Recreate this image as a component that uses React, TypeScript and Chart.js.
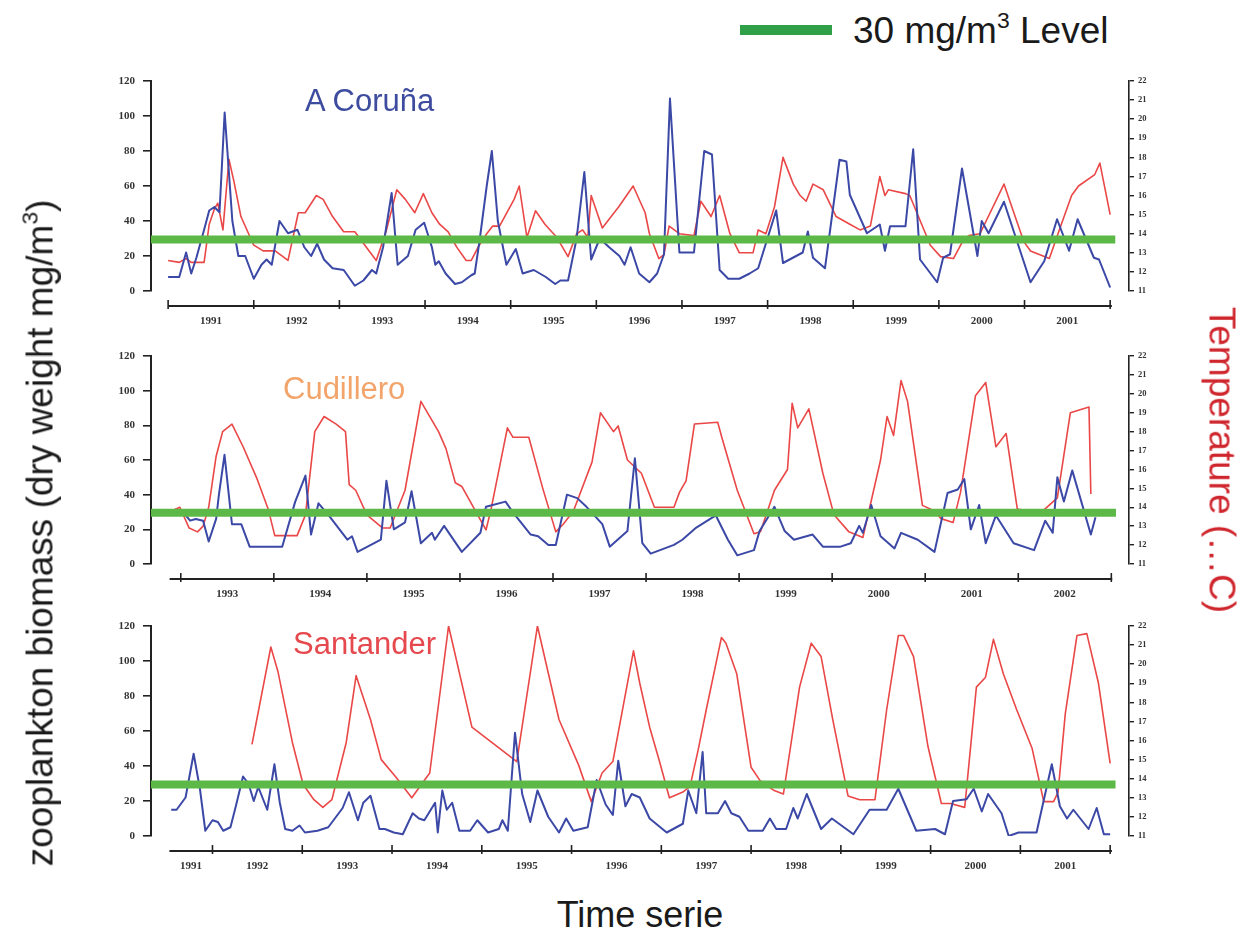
import React, { useEffect, useRef } from 'react';
import { Chart, registerables } from 'chart.js';

Chart.register(...registerables);

type Pt = [number, number];

// ---------- DATA (decimal year, value) ----------
// A Coruña — zooplankton biomass (mg/m3)
const corunaBiomass: Pt[] = [
  [1991.0, 8], [1991.13, 8], [1991.21, 22], [1991.27, 10], [1991.33, 19], [1991.42, 35], [1991.48, 46], [1991.54, 48],
  [1991.6, 45], [1991.66, 102], [1991.75, 40], [1991.82, 20], [1991.9, 20], [1992.0, 7], [1992.09, 15], [1992.15, 18],
  [1992.21, 15], [1992.3, 40], [1992.4, 33], [1992.51, 35], [1992.59, 25], [1992.67, 20], [1992.74, 27], [1992.82, 18],
  [1992.92, 13], [1993.05, 12], [1993.18, 3], [1993.28, 6], [1993.38, 12], [1993.43, 10], [1993.51, 25], [1993.61, 56],
  [1993.68, 15], [1993.8, 20], [1993.89, 35], [1993.99, 39], [1994.08, 25], [1994.12, 15], [1994.16, 17], [1994.24, 10],
  [1994.35, 4], [1994.43, 5], [1994.54, 9], [1994.58, 10], [1994.64, 30], [1994.72, 60], [1994.78, 80], [1994.85, 40],
  [1994.95, 15], [1995.06, 24], [1995.14, 10], [1995.27, 12], [1995.41, 8], [1995.52, 4], [1995.58, 6], [1995.67, 6],
  [1995.77, 30], [1995.86, 68], [1995.94, 18], [1996.04, 30], [1996.15, 25], [1996.27, 20], [1996.33, 15], [1996.4, 25],
  [1996.5, 10], [1996.62, 5], [1996.71, 10], [1996.79, 21], [1996.86, 110], [1996.97, 22], [1997.14, 22], [1997.26, 80],
  [1997.35, 78], [1997.44, 12], [1997.54, 7], [1997.67, 7], [1997.79, 10], [1997.89, 13], [1998.1, 46], [1998.18, 16],
  [1998.41, 22], [1998.47, 34], [1998.53, 19], [1998.67, 13], [1998.84, 75], [1998.92, 74], [1998.96, 55], [1999.16, 33],
  [1999.31, 38], [1999.37, 23], [1999.43, 37], [1999.61, 37], [1999.7, 81], [1999.78, 18], [1999.98, 5], [2000.05, 19],
  [2000.13, 21], [2000.27, 70], [2000.45, 20], [2000.5, 40], [2000.58, 33], [2000.76, 51], [2001.07, 5], [2001.23, 17],
  [2001.38, 41], [2001.52, 23], [2001.62, 41], [2001.81, 19], [2001.87, 18], [2002.0, 2],
];

// A Coruña — temperature (°C)
const corunaTemperature: Pt[] = [
  [1991.0, 12.6], [1991.13, 12.5], [1991.21, 12.7], [1991.27, 12.5], [1991.42, 12.5], [1991.48, 14.5], [1991.54, 15.3],
  [1991.58, 15.6], [1991.64, 14.2], [1991.71, 17.9], [1991.77, 16.7], [1991.85, 14.9], [1991.94, 14.0], [1992.0, 13.4],
  [1992.11, 13.1], [1992.25, 13.1], [1992.4, 12.6], [1992.52, 15.1], [1992.6, 15.1], [1992.73, 16.0], [1992.81, 15.8],
  [1992.92, 14.9], [1993.05, 14.1], [1993.18, 14.1], [1993.43, 12.6], [1993.55, 14.2], [1993.67, 16.3], [1993.77, 15.8],
  [1993.88, 15.1], [1993.98, 16.1], [1994.08, 15.1], [1994.17, 14.5], [1994.27, 14.1], [1994.37, 13.3], [1994.48, 12.6],
  [1994.54, 12.6], [1994.62, 13.3], [1994.72, 14.0], [1994.79, 14.4], [1994.87, 14.4], [1995.04, 15.8], [1995.1, 16.5],
  [1995.19, 13.8], [1995.29, 15.2], [1995.4, 14.5], [1995.54, 13.8], [1995.67, 12.8], [1995.77, 14.0], [1995.84, 14.2],
  [1995.9, 13.8], [1995.94, 16.0], [1996.07, 14.3], [1996.26, 15.4], [1996.43, 16.5], [1996.57, 15.1], [1996.62, 14.0],
  [1996.73, 12.7], [1996.79, 12.9], [1996.85, 14.4], [1996.97, 14.0], [1997.14, 13.9], [1997.22, 15.7], [1997.34, 14.9],
  [1997.44, 16.0], [1997.56, 14.0], [1997.67, 13.0], [1997.83, 13.0], [1997.89, 14.2], [1997.98, 14.0], [1998.08, 15.4],
  [1998.18, 18.0], [1998.3, 16.6], [1998.38, 16.0], [1998.45, 15.7], [1998.53, 16.6], [1998.65, 16.3], [1998.8, 14.9],
  [1998.96, 14.5], [1999.08, 14.2], [1999.2, 14.4], [1999.31, 17.0], [1999.37, 16.0], [1999.41, 16.3], [1999.61, 16.1],
  [1999.66, 16.0], [1999.9, 13.4], [2000.02, 12.8], [2000.17, 12.7], [2000.29, 13.7], [2000.35, 13.9], [2000.48, 14.0],
  [2000.76, 16.6], [2000.99, 13.6], [2001.07, 13.1], [2001.29, 12.7], [2001.43, 14.5], [2001.55, 16.0], [2001.63, 16.5],
  [2001.82, 17.1], [2001.88, 17.7], [2002.0, 15.0],
];

// Cudillero — zooplankton biomass (mg/m3)
const cudilleroBiomass: Pt[] = [
  [1992.85, 28], [1992.93, 30], [1993.01, 31], [1993.1, 25], [1993.16, 26], [1993.24, 25], [1993.3, 13], [1993.38, 26],
  [1993.41, 40], [1993.47, 63], [1993.55, 23], [1993.65, 23], [1993.74, 10], [1994.09, 10], [1994.23, 36], [1994.34, 51],
  [1994.4, 17], [1994.48, 35], [1994.59, 28], [1994.79, 14], [1994.84, 16], [1994.9, 7], [1995.15, 14], [1995.21, 48],
  [1995.29, 20], [1995.41, 24], [1995.48, 42], [1995.58, 12], [1995.7, 18], [1995.73, 14], [1995.83, 22], [1996.02, 7],
  [1996.22, 18], [1996.28, 33], [1996.49, 36], [1996.58, 29], [1996.76, 17], [1996.84, 16], [1996.95, 11], [1997.03, 11],
  [1997.15, 40], [1997.26, 38], [1997.36, 33], [1997.53, 23], [1997.61, 10], [1997.8, 19], [1997.88, 61], [1997.96, 12],
  [1998.05, 6], [1998.3, 11], [1998.39, 14], [1998.54, 21], [1998.75, 28], [1998.88, 14], [1998.98, 5], [1999.16, 8],
  [1999.22, 19], [1999.38, 33], [1999.49, 19], [1999.59, 14], [1999.79, 17], [1999.9, 10], [2000.09, 10], [2000.2, 12],
  [2000.29, 22], [2000.33, 18], [2000.42, 34], [2000.52, 16], [2000.67, 9], [2000.74, 18], [2000.92, 14], [2001.1, 7],
  [2001.24, 41], [2001.35, 43], [2001.42, 49], [2001.49, 20], [2001.58, 34], [2001.65, 12], [2001.76, 28], [2001.95, 12],
  [2002.17, 8], [2002.29, 25], [2002.37, 18], [2002.42, 50], [2002.49, 36], [2002.58, 54], [2002.78, 17], [2002.83, 27],
];

// Cudillero — temperature (°C)
const cudilleroTemperature: Pt[] = [
  [1992.85, 13.7], [1992.99, 14.0], [1993.09, 12.9], [1993.18, 12.7], [1993.24, 13.0], [1993.3, 14.0], [1993.38, 16.7],
  [1993.45, 18.0], [1993.55, 18.4], [1993.67, 17.2], [1993.82, 15.5], [1993.94, 13.9], [1994.01, 12.5], [1994.25, 12.5],
  [1994.34, 13.6], [1994.44, 18.0], [1994.54, 18.8], [1994.67, 18.4], [1994.77, 18.0], [1994.81, 15.2], [1994.88, 14.9],
  [1995.0, 13.6], [1995.17, 12.9], [1995.25, 12.9], [1995.41, 14.9], [1995.58, 19.6], [1995.77, 18.0], [1995.85, 17.1],
  [1995.95, 15.3], [1996.02, 15.1], [1996.28, 12.8], [1996.33, 13.8], [1996.51, 18.2], [1996.57, 17.7], [1996.74, 17.7],
  [1996.89, 15.0], [1997.03, 12.7], [1997.11, 13.1], [1997.22, 13.8], [1997.42, 16.4], [1997.51, 19.0], [1997.65, 18.0],
  [1997.7, 18.3], [1997.8, 16.5], [1997.95, 15.8], [1998.09, 14.0], [1998.3, 14.0], [1998.36, 14.8], [1998.43, 15.4],
  [1998.52, 18.4], [1998.77, 18.5], [1998.82, 17.6], [1998.98, 14.9], [1999.16, 12.6], [1999.23, 12.7], [1999.38, 14.9],
  [1999.52, 16.0], [1999.57, 19.5], [1999.63, 18.2], [1999.75, 19.2], [1999.9, 15.8], [2000.02, 13.6], [2000.18, 12.7],
  [2000.33, 12.4], [2000.52, 16.5], [2000.59, 18.8], [2000.66, 17.8], [2000.74, 20.7], [2000.81, 19.6], [2000.97, 14.1],
  [2001.1, 13.8], [2001.17, 13.4], [2001.3, 13.2], [2001.38, 14.8], [2001.54, 19.9], [2001.65, 20.6], [2001.76, 17.2],
  [2001.87, 17.9], [2001.99, 13.9], [2002.24, 13.7], [2002.42, 14.5], [2002.56, 19.0], [2002.76, 19.3], [2002.78, 14.7],
];

// Santander — zooplankton biomass (mg/m3)
const santanderBiomass: Pt[] = [
  [1991.54, 15], [1991.6, 15], [1991.7, 22], [1991.79, 47], [1991.86, 27], [1991.92, 3], [1992.0, 9], [1992.06, 8],
  [1992.12, 3], [1992.2, 5], [1992.26, 17], [1992.34, 34], [1992.4, 30], [1992.46, 20], [1992.51, 28], [1992.61, 15],
  [1992.69, 41], [1992.75, 19], [1992.81, 4], [1992.89, 3], [1992.97, 6], [1993.03, 2], [1993.17, 3], [1993.29, 5],
  [1993.45, 16], [1993.52, 25], [1993.62, 9], [1993.68, 19], [1993.76, 23], [1993.86, 4], [1993.92, 4], [1994.02, 2],
  [1994.12, 1], [1994.23, 13], [1994.3, 10], [1994.36, 9], [1994.48, 19], [1994.51, 2], [1994.56, 26], [1994.61, 15],
  [1994.67, 19], [1994.75, 3], [1994.87, 3], [1994.95, 9], [1995.07, 2], [1995.19, 4], [1995.23, 9], [1995.29, 3],
  [1995.37, 59], [1995.45, 24], [1995.54, 8], [1995.62, 26], [1995.74, 11], [1995.86, 2], [1995.94, 10], [1996.02, 3],
  [1996.18, 5], [1996.28, 32], [1996.38, 18], [1996.46, 12], [1996.52, 43], [1996.6, 17], [1996.67, 24], [1996.76, 22],
  [1996.87, 10], [1997.06, 2], [1997.24, 7], [1997.3, 26], [1997.39, 13], [1997.46, 48], [1997.5, 13], [1997.63, 13],
  [1997.71, 20], [1997.78, 13], [1997.87, 11], [1997.97, 3], [1998.13, 3], [1998.21, 10], [1998.28, 4], [1998.39, 4],
  [1998.47, 16], [1998.52, 10], [1998.62, 24], [1998.78, 4], [1998.9, 10], [1999.14, 1], [1999.32, 15], [1999.51, 15],
  [1999.64, 27], [1999.84, 3], [2000.05, 4], [2000.16, 1], [2000.25, 20], [2000.4, 21], [2000.48, 27], [2000.57, 14],
  [2000.64, 24], [2000.79, 13], [2000.87, 0], [2000.98, 2], [2001.18, 2], [2001.35, 41], [2001.44, 17], [2001.52, 10],
  [2001.59, 15], [2001.76, 4], [2001.85, 16], [2001.93, 1], [2002.0, 1],
];

// Santander — temperature (°C)
const santanderTemperature: Pt[] = [
  [1992.44, 15.8], [1992.65, 20.9], [1992.73, 19.6], [1992.89, 15.9], [1993.01, 13.7], [1993.13, 12.9], [1993.23, 12.5],
  [1993.33, 12.9], [1993.49, 15.9], [1993.6, 19.4], [1993.76, 17.1], [1993.88, 15.0], [1994.04, 14.1], [1994.22, 13.0],
  [1994.42, 14.3], [1994.63, 22.0], [1994.89, 16.7], [1995.39, 14.9], [1995.62, 22.0], [1995.86, 17.1], [1996.08, 14.7],
  [1996.22, 12.8], [1996.34, 14.3], [1996.46, 14.9], [1996.69, 20.7], [1996.76, 19.0], [1996.87, 16.7], [1996.98, 14.9],
  [1997.09, 13.0], [1997.24, 13.3], [1997.32, 13.6], [1997.41, 15.5], [1997.5, 17.6], [1997.67, 21.4], [1997.72, 21.1],
  [1997.84, 19.5], [1998.0, 14.6], [1998.1, 13.9], [1998.25, 13.4], [1998.36, 13.2], [1998.54, 18.8], [1998.67, 21.1],
  [1998.78, 20.4], [1998.91, 17.1], [1999.08, 13.1], [1999.21, 12.9], [1999.38, 12.9], [1999.51, 17.6], [1999.64, 21.5],
  [1999.7, 21.5], [1999.81, 20.4], [1999.97, 15.7], [2000.12, 12.7], [2000.22, 12.7], [2000.38, 12.5], [2000.51, 18.8],
  [2000.61, 19.3], [2000.7, 21.3], [2000.81, 19.5], [2000.96, 17.6], [2001.13, 15.6], [2001.26, 12.8], [2001.37, 12.8],
  [2001.42, 13.3], [2001.5, 17.4], [2001.63, 21.5], [2001.74, 21.6], [2001.87, 19.0], [2002.0, 14.8],
];

// Year labels of each time axis
const corunaYears = [1991, 1992, 1993, 1994, 1995, 1996, 1997, 1998, 1999, 2000, 2001];
const cudilleroYears = [1993, 1994, 1995, 1996, 1997, 1998, 1999, 2000, 2001, 2002];
const santanderYears = [1991, 1992, 1993, 1994, 1995, 1996, 1997, 1998, 1999, 2000, 2001];

// Left-axis range (biomass) and right-axis range (temperature)
const biomassRange = [0, 120];
const temperatureRange = [11, 22];
const levelValue = 29.5; // the "30 mg/m3 Level" line as drawn

// ---------- STYLE ----------
const BLUE = '#3b48a6';
const RED = '#ea4747';
const GREEN = '#5cb947';
const LEGEND_GREEN = '#2f9f48';
const AXIS = '#222';
const SANS = '"Liberation Sans", Arial, sans-serif';
const SERIF = '"Liberation Serif", "Times New Roman", serif';

interface PanelCfg {
  top: number;
  height: number;
  xMin: number;
  xMax: number;
  axisStart: number;
  axisEnd: number;
  bio: Pt[];
  temp: Pt[];
  years: number[];
}

const panels: PanelCfg[] = [
  { top: 56, height: 280, xMin: 1990.8, xMax: 2002.22, axisStart: 1991.0, axisEnd: 2002.02, bio: corunaBiomass, temp: corunaTemperature, years: corunaYears },
  { top: 331, height: 278, xMin: 1992.68, xMax: 2003.19, axisStart: 1992.88, axisEnd: 2003.01, bio: cudilleroBiomass, temp: cudilleroTemperature, years: cudilleroYears },
  { top: 601, height: 280, xMin: 1991.315, xMax: 2002.21, axisStart: 1991.52, axisEnd: 2002.02, bio: santanderBiomass, temp: santanderTemperature, years: santanderYears },
];

const brokenAxisPlugin = {
  id: 'brokenXAxis',
  afterDraw(chart: any, _args: any, opts: any) {
    const { ctx, chartArea } = chart;
    const xs = chart.scales.x;
    const y = chartArea.bottom + 15;
    ctx.save();
    ctx.strokeStyle = AXIS;
    ctx.lineWidth = 2;
    ctx.beginPath();
    ctx.moveTo(xs.getPixelForValue(opts.start), y);
    ctx.lineTo(xs.getPixelForValue(opts.end), y);
    ctx.stroke();
    ctx.lineWidth = 1.6;
    for (let yr = Math.ceil(opts.start); yr <= Math.floor(opts.end); yr++) {
      const px = xs.getPixelForValue(yr);
      ctx.beginPath();
      ctx.moveTo(px, y - 6);
      ctx.lineTo(px, y + 3);
      ctx.stroke();
    }
    ctx.restore();
  },
};

function Panel({ cfg }: { cfg: PanelCfg }) {
  const ref = useRef<HTMLCanvasElement | null>(null);
  useEffect(() => {
    if (!ref.current) return;
    const labelPos = cfg.years.map((yr) => {
      const a = Math.max(yr, cfg.axisStart);
      const b = Math.min(yr + 1, cfg.axisEnd);
      return (a + b) / 2;
    });
    const chart = new Chart(ref.current, {
      type: 'line',
      data: {
        datasets: [
          {
            label: '30 mg/m3 Level',
            data: [
              { x: cfg.xMin, y: levelValue },
              { x: cfg.axisEnd + 0.04, y: levelValue },
            ],
            borderColor: GREEN,
            borderWidth: 8,
            borderCapStyle: 'butt',
            pointRadius: 0,
            yAxisID: 'y',
            order: 0,
          },
          {
            label: 'Biomass',
            data: cfg.bio.map(([x, y]) => ({ x, y })),
            borderColor: BLUE,
            borderWidth: 2,
            borderJoinStyle: 'round',
            pointRadius: 0,
            tension: 0,
            yAxisID: 'y',
            order: 1,
          },
          {
            label: 'Temperature',
            data: cfg.temp.map(([x, y]) => ({ x, y })),
            borderColor: RED,
            borderWidth: 1.6,
            borderJoinStyle: 'round',
            pointRadius: 0,
            tension: 0,
            yAxisID: 'y1',
            order: 2,
          },
        ],
      },
      options: {
        animation: false,
        responsive: false,
        maintainAspectRatio: false,
        events: [],
        layout: { padding: { left: 111, right: 75, top: 25, bottom: 0 } },
        plugins: {
          legend: { display: false },
          tooltip: { enabled: false },
          brokenXAxis: { start: cfg.axisStart, end: cfg.axisEnd },
        } as any,
        scales: {
          x: {
            type: 'linear',
            min: cfg.xMin,
            max: cfg.xMax,
            position: 'bottom',
            grid: { display: false, drawTicks: false },
            border: { display: false },
            afterBuildTicks: (scale: any) => {
              scale.ticks = labelPos.map((v) => ({ value: v }));
            },
            afterFit: (scale: any) => {
              scale.height = 45;
            },
            ticks: {
              autoSkip: false,
              maxRotation: 0,
              minRotation: 0,
              padding: 24,
              color: '#333',
              font: { family: SERIF, size: 11, weight: 'bold' },
              callback: (_v: any, i: number) => String(cfg.years[i]),
            },
          },
          y: {
            type: 'linear',
            position: 'left',
            min: biomassRange[0],
            max: biomassRange[1],
            grid: { drawOnChartArea: false, tickLength: 8, color: AXIS, lineWidth: 1.6 },
            border: { color: AXIS, width: 2 },
            afterFit: (scale: any) => {
              scale.width = 40;
            },
            ticks: {
              stepSize: 20,
              padding: 8,
              color: '#333',
              font: { family: SERIF, size: 11, weight: 'bold' },
            },
          },
          y1: {
            type: 'linear',
            position: 'right',
            min: temperatureRange[0],
            max: temperatureRange[1],
            grid: { drawOnChartArea: false, tickLength: 5, color: AXIS, lineWidth: 1.4 },
            border: { color: AXIS, width: 1.6 },
            afterFit: (scale: any) => {
              scale.width = 40;
            },
            ticks: {
              stepSize: 1,
              padding: 4,
              color: '#333',
              font: { family: SERIF, size: 8.5, weight: 'bold' },
            },
          },
        },
      } as any,
      plugins: [brokenAxisPlugin],
    });
    return () => chart.destroy();
  }, [cfg]);
  return (
    <canvas
      ref={ref}
      width={1244}
      height={cfg.height}
      style={{ position: 'absolute', left: 0, top: cfg.top, width: 1244, height: cfg.height }}
    />
  );
}

const textBase: React.CSSProperties = {
  position: 'absolute',
  fontFamily: SANS,
  whiteSpace: 'nowrap',
  lineHeight: 1,
};

export default function App() {
  return (
    <div style={{ position: 'absolute', left: 0, top: 0, width: 1244, height: 935, background: '#fff', overflow: 'hidden' }}>
      {panels.map((p, i) => (
        <Panel key={i} cfg={p} />
      ))}
      {/* legend */}
      <div style={{ position: 'absolute', left: 740, top: 25, width: 92, height: 10, background: LEGEND_GREEN }} />
      <div style={{ ...textBase, left: 853, top: 12, fontSize: 37, color: '#1a1a1a' }}>
        30 mg/m<sup style={{ fontSize: '0.62em', verticalAlign: 'top', position: 'relative', top: -3 }}>3</sup> Level
      </div>
      {/* station names */}
      <div style={{ ...textBase, left: 305, top: 85, fontSize: 31, color: '#3d4c9e' }}>A Coruña</div>
      <div style={{ ...textBase, left: 283, top: 373, fontSize: 31, color: '#f2a46a' }}>Cudillero</div>
      <div style={{ ...textBase, left: 293, top: 628, fontSize: 31, color: '#e5484d' }}>Santander</div>
      {/* axis titles */}
      <div
        style={{
          ...textBase,
          left: 40,
          top: 533,
          fontSize: 37,
          color: '#1a1a1a',
          transform: 'translate(-50%, -50%) rotate(-90deg)',
        }}
      >
        zooplankton biomass (dry weight mg/m
        <sup style={{ fontSize: '0.62em', verticalAlign: 'top', position: 'relative', top: -3 }}>3</sup>)
      </div>
      <div
        style={{
          ...textBase,
          left: 1222,
          top: 460,
          fontSize: 37,
          color: '#cf252c',
          transform: 'translate(-50%, -50%) rotate(90deg)',
        }}
      >
        Temperature (…C)
      </div>
      <div style={{ ...textBase, left: 640, top: 897, fontSize: 36, color: '#1a1a1a', transform: 'translateX(-50%)' }}>
        Time serie
      </div>
    </div>
  );
}
